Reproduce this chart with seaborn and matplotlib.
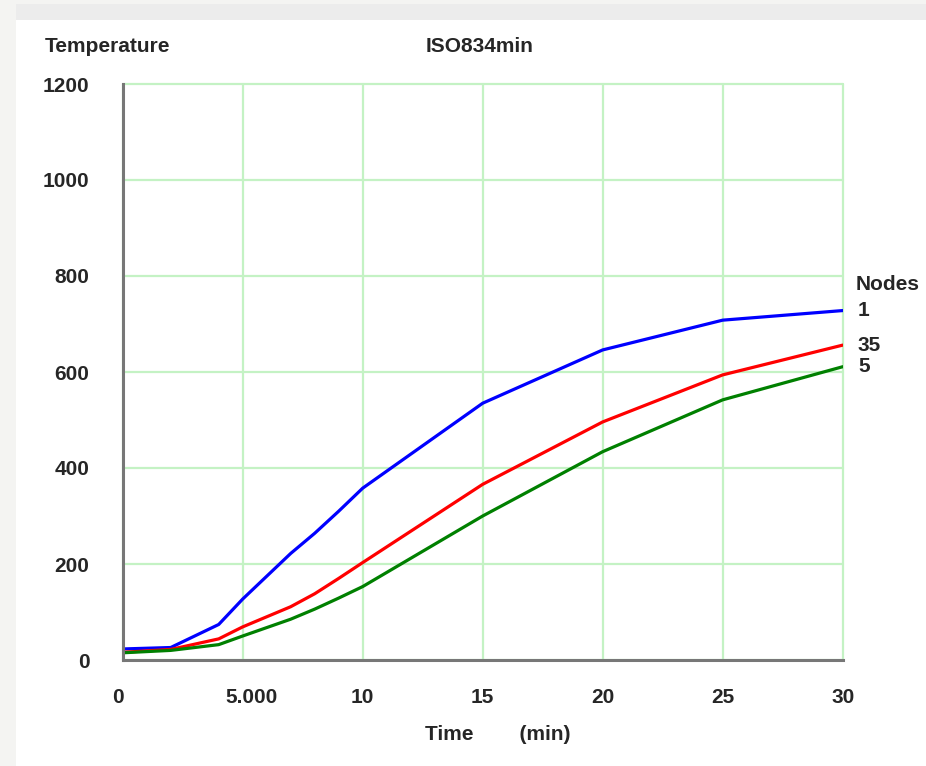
import pandas as pd
import numpy as np
import matplotlib.pyplot as plt
import matplotlib.transforms as mtransforms
import seaborn as sns
from matplotlib.patches import Rectangle

# ============================================================================
# DATA
# ============================================================================
time_min = [0, 2, 4, 5, 7, 8, 9, 10, 15, 20, 25, 30]
node_1 = [23, 26, 74, 127, 222, 264, 310, 358, 535, 646, 708, 728]
node_35 = [16, 22, 44, 69, 111, 138, 170, 203, 366, 496, 594, 656]
node_5 = [15, 20, 32, 50, 85, 106, 129, 153, 300, 434, 542, 611]

node_names = ['1', '35', '5']
node_colors = ['#0000ff', '#ff0000', '#008000']
x_ticks = [0, 5, 10, 15, 20, 25, 30]
x_tick_labels = ['0', '5.000', '10', '15', '20', '25', '30']
y_ticks = [0, 200, 400, 600, 800, 1000, 1200]

W, H = 926, 766


def build_frame():
    series = {'1': node_1, '35': node_35, '5': node_5}
    frames = [pd.DataFrame({'time': time_min, 'temp': v, 'node': k}) for k, v in series.items()]
    return pd.concat(frames, ignore_index=True)


def draw():
    df = build_frame()

    sns.set_style("white")
    plt.rcParams['font.family'] = ['Liberation Sans', 'DejaVu Sans']
    font = dict(fontsize=15, fontweight='bold', color='#262626')

    fig = plt.figure(figsize=(W / 100, H / 100), dpi=100, facecolor='#f4f4f2')
    # white panel + grey strip on top (screenshot frame)
    fig.patches.append(Rectangle((16 / W, 0), 1 - 16 / W, 1 - 20 / H, transform=fig.transFigure,
                                 facecolor='white', edgecolor='none', zorder=-2))
    fig.patches.append(Rectangle((16 / W, 1 - 20 / H), 1 - 16 / W, 16 / H, transform=fig.transFigure,
                                 facecolor='#ececec', edgecolor='none', zorder=-2))

    ax = fig.add_axes([122.7 / W, 1 - 660 / H, 720 / W, 576 / H])
    ax.set_zorder(2)
    ax.set_facecolor('white')

    sns.lineplot(data=df, x='time', y='temp', hue='node', hue_order=node_names,
                 palette=dict(zip(node_names, node_colors)), linewidth=2.3,
                 legend=False, ax=ax, zorder=3)

    ax.set_xlim(0, 30)
    ax.set_ylim(0, 1200)
    ax.set_xticks(x_ticks)
    ax.set_xticklabels(x_tick_labels, **font)
    ax.set_yticks(y_ticks)
    ax.set_yticklabels([str(v) for v in y_ticks], **font)
    ax.set_xlabel('')
    ax.set_ylabel('')

    ax.grid(True, color='#c4f2c4', linewidth=1.6)
    for gl in ax.get_xgridlines() + ax.get_ygridlines():
        gl.set_clip_on(False)
    ax.set_axisbelow(True)

    for side in ['top', 'right']:
        ax.spines[side].set_visible(False)
    for side in ['left', 'bottom']:
        ax.spines[side].set_color('#777777')
        ax.spines[side].set_linewidth(2.2)
        ax.spines[side].set_zorder(4)
    ax.tick_params(axis='x', direction='out', length=6, width=1.6, color='#777777', pad=14)
    ax.tick_params(axis='y', direction='out', length=7, width=1.6, color='#777777', pad=17)

    # nudge "0" and "5.000" like the original (after tick_params, which resets transforms)
    ticks = ax.xaxis.get_major_ticks()
    for tick, dx in [(ticks[0], -5), (ticks[1], 9)]:
        lab = tick.label1
        lab.set_transform(lab.get_transform() + mtransforms.ScaledTranslation(dx / 100, 0, fig.dpi_scale_trans))

    # text around the axes
    fig.text(45 / W, 1 - 47 / H, 'Temperature', ha='left', va='center', **font)
    fig.text(480 / W, 1 - 47 / H, 'ISO834min', ha='center', va='center', **font)
    fig.text(425 / W, 1 - 735 / H, 'Time        (min)', ha='left', va='center', **font)

    # end-of-line node labels
    ends = [node_1[-1], node_35[-1], node_5[-1]]
    for name, val in zip(node_names, ends):
        ax.annotate(name, xy=(30, val), xytext=(11, 0), textcoords='offset points',
                    ha='left', va='center', annotation_clip=False, **font)
    ax.annotate('Nodes', xy=(30, node_1[-1]), xytext=(9, 19), textcoords='offset points',
                ha='left', va='center', annotation_clip=False, **font)

    plt.savefig('out.png', dpi=100, facecolor=fig.get_facecolor())


if __name__ == "__main__":
    draw()
